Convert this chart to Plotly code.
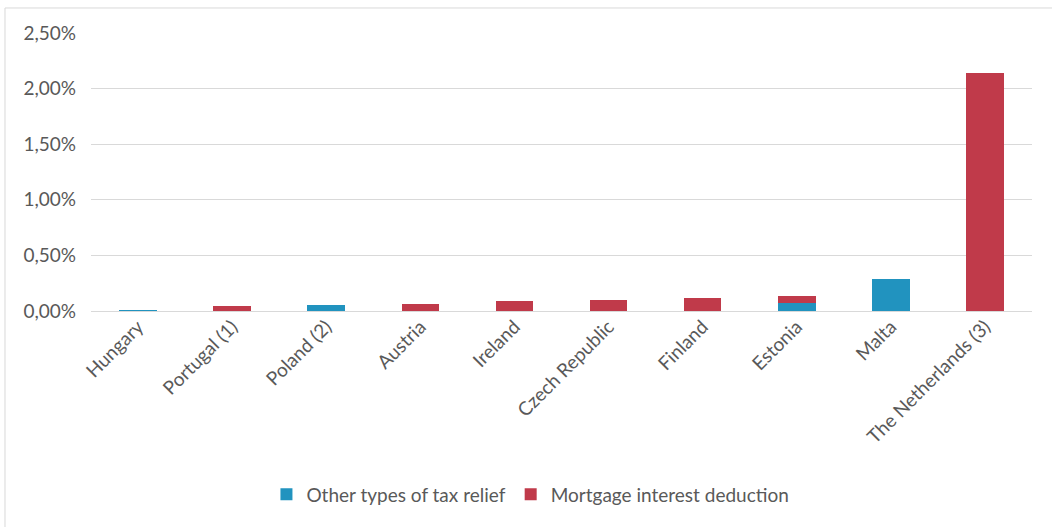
import plotly.graph_objects as go

countries = ["Hungary", "Portugal (1)", "Poland (2)", "Austria", "Ireland",
             "Czech Republic", "Finland", "Estonia", "Malta", "The Netherlands (3)"]
# Share of GDP, in percent
other_relief = [0.005, 0, 0.054, 0, 0, 0, 0, 0.072, 0.285, 0]
mortgage_deduction = [0, 0.048, 0, 0.060, 0.087, 0.099, 0.114, 0.060, 0, 2.14]
y_ticks = [0, 0.5, 1.0, 1.5, 2.0, 2.5]
y_tick_labels = ["0,00%", "0,50%", "1,00%", "1,50%", "2,00%", "2,50%"]

BLUE = "#2193BF"
RED = "#C03A4A"
TEXT = "#595959"
FONT = "Lato, sans-serif"
FS = 19

fig = go.Figure()
fig.add_trace(go.Bar(name="Other types of tax relief", x=countries, y=other_relief,
                     marker=dict(color=BLUE, line=dict(width=0))))
fig.add_trace(go.Bar(name="Mortgage interest deduction", x=countries, y=mortgage_deduction,
                     marker=dict(color=RED, line=dict(width=0))))

fig.update_layout(
    barmode="stack",
    bargap=0.6,
    width=1052, height=527,
    margin=dict(l=91, r=20, t=33, b=216),
    paper_bgcolor="white", plot_bgcolor="white",
    font=dict(family=FONT, size=FS, color=TEXT),
    showlegend=True,
    legend=dict(orientation="h", x=0.467, xanchor="center", y=-0.66, yanchor="middle",
                font=dict(family=FONT, size=FS, color=TEXT), traceorder="normal",
                itemwidth=30),
    xaxis=dict(tickangle=-45, showline=False, showgrid=False, ticks="",
               tickfont=dict(family=FONT, size=FS, color=TEXT)),
    yaxis=dict(range=[0, 2.5], tickvals=y_ticks, ticktext=y_tick_labels,
               showgrid=True, gridcolor="#D9D9D9", gridwidth=1, zeroline=True,
               zerolinecolor="#D9D9D9", zerolinewidth=1, showline=False, ticks="",
               ticklabelstandoff=14, tickfont=dict(family=FONT, size=FS, color=TEXT)),
    shapes=[
        dict(type="line", xref="paper", yref="paper", x0=-0.0914, x1=1.03, y0=1.09, y1=1.09,
             line=dict(color="#D9D9D9", width=1)),
        dict(type="line", xref="paper", yref="paper", x0=-0.0914, x1=-0.0914, y0=1.09, y1=-0.79,
             line=dict(color="#D9D9D9", width=1)),
    ],
)

fig.write_html("out.html")
